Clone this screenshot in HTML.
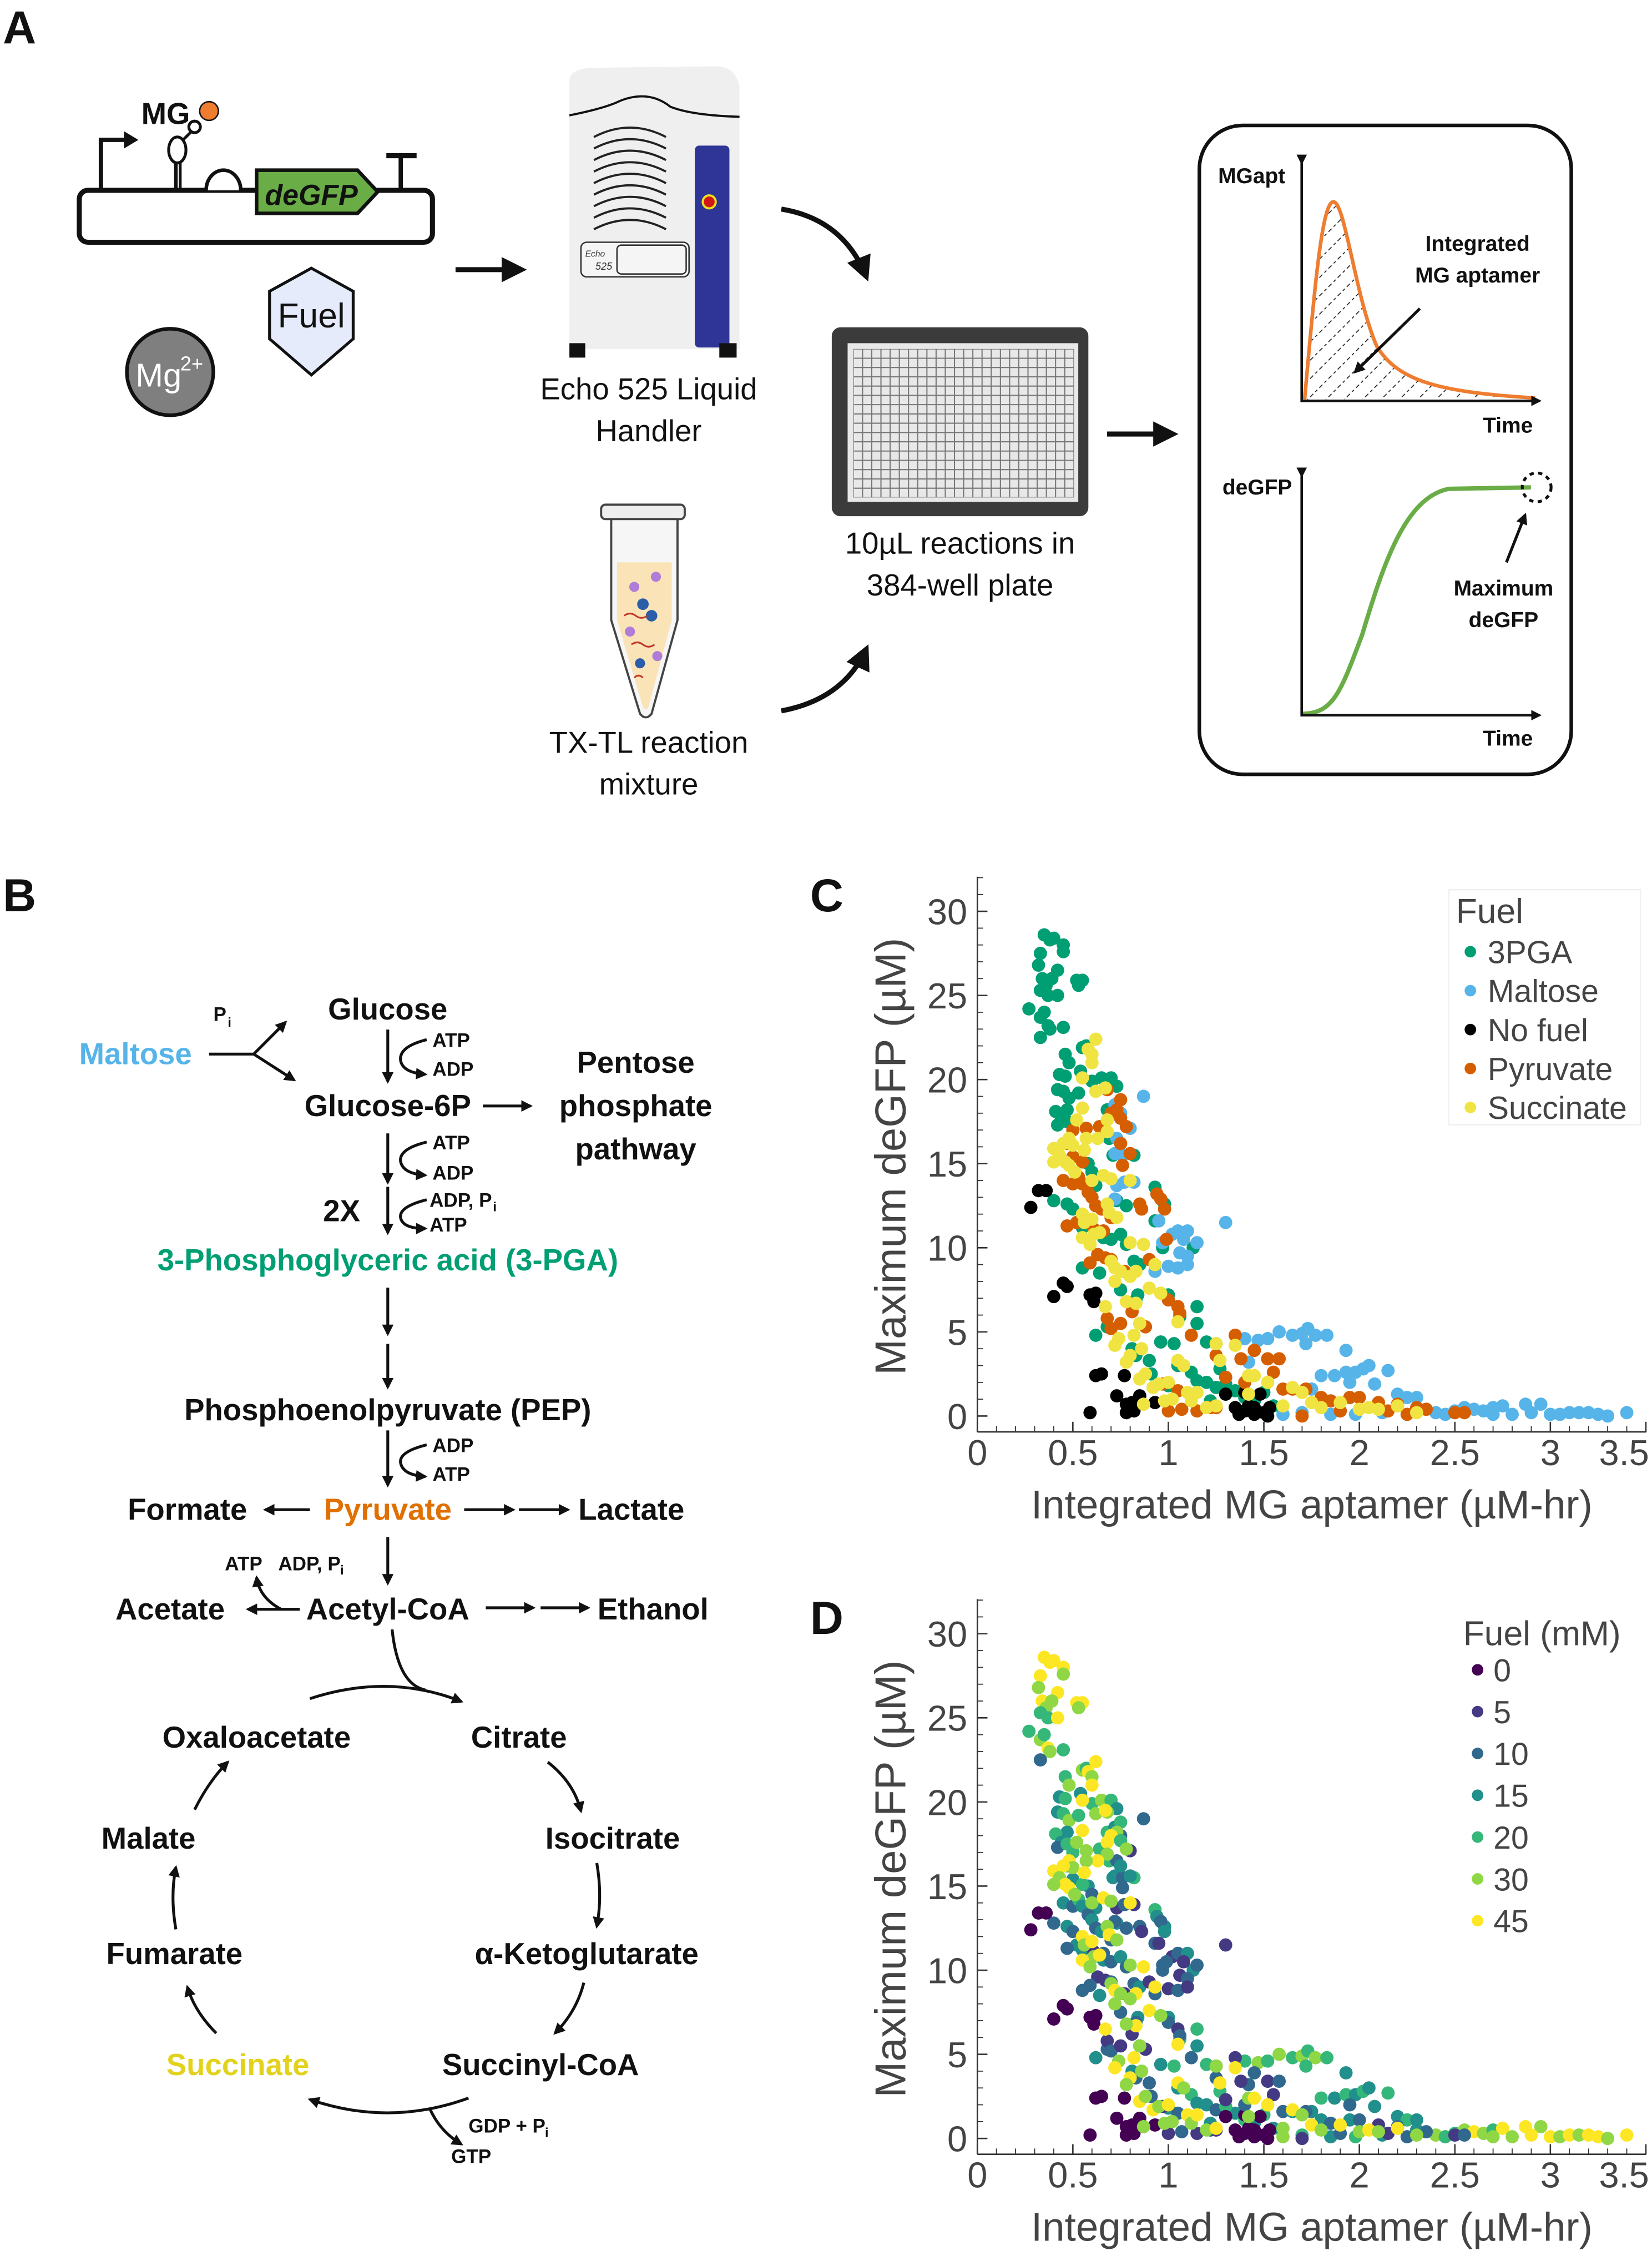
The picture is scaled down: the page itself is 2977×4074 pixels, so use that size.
<!DOCTYPE html>
<html><head><meta charset="utf-8"><style>
html,body{margin:0;padding:0;background:#fff;}
svg{display:block;}
text{font-family:"Liberation Sans",sans-serif;}
.b{font-weight:bold;font-size:21px;fill:#111;text-anchor:middle;}
.s{font-weight:bold;font-size:13.5px;fill:#111;}
.tk{font-size:25px;fill:#444;text-anchor:middle;}
.lg{font-size:22px;fill:#444;}
</style></head><body>
<svg id="fig" width="2977" height="4074" viewBox="0 0 1146 1568" preserveAspectRatio="none" xmlns="http://www.w3.org/2000/svg">
<defs>
<marker id="ah" viewBox="0 0 10 10" refX="8" refY="5" markerWidth="5" markerHeight="5" orient="auto"><path d="M0,0L10,5L0,10z" fill="#111"/></marker>
<marker id="ahs" viewBox="0 0 10 10" refX="8" refY="5" markerWidth="4" markerHeight="4" orient="auto"><path d="M0,0L10,5L0,10z" fill="#111"/></marker>
<pattern id="hatch" width="9" height="9" patternUnits="userSpaceOnUse" patternTransform="rotate(45)"><line x1="0" y1="0" x2="0" y2="9" stroke="#222" stroke-width="1.3" stroke-dasharray="2,2"/></pattern>
<clipPath id="plateclip"><rect x="592" y="242" width="153" height="103"/></clipPath>
</defs>

<!-- PANEL A -->
<text x="2" y="30" font-size="32" font-weight="bold" fill="#111">A</text>
<g>
<rect x="55" y="132" width="245" height="36" rx="6" fill="#fff" stroke="#111" stroke-width="3.5"/>
<path d="M70,132V97H88" fill="none" stroke="#111" stroke-width="3"/><path d="M86,91L96,97L86,103z" fill="#111"/>
<line x1="122" y1="132" x2="122" y2="112" stroke="#111" stroke-width="2.5"/><line x1="125" y1="132" x2="125" y2="112" stroke="#111" stroke-width="2"/>
<ellipse cx="123" cy="104" rx="6" ry="9" fill="#fff" stroke="#111" stroke-width="2"/>
<line x1="127" y1="97" x2="133" y2="91" stroke="#111" stroke-width="2"/><circle cx="135" cy="88" r="4" fill="#fff" stroke="#111" stroke-width="2"/>
<path d="M143,132A12,14 0 0 1 167,132" fill="#fff" stroke="#111" stroke-width="2.5"/>
<path d="M178,118H248L262,133L248,148H178z" fill="#6AAD46" stroke="#111" stroke-width="2.5"/>
<text x="216" y="142" font-size="20" font-weight="bold" font-style="italic" fill="#111" text-anchor="middle">deGFP</text>
<line x1="278" y1="132" x2="278" y2="108" stroke="#111" stroke-width="3"/><line x1="268" y1="108" x2="289" y2="108" stroke="#111" stroke-width="3.5"/>
<text x="98" y="86" font-size="21" font-weight="bold" fill="#111">MG</text>
<circle cx="145" cy="77" r="6.5" fill="#EE7D30" stroke="#111" stroke-width="1"/>
</g>
<g>
<polygon points="216,186 245,202 245,235 216,260 187,235 187,202" fill="#E5EBFA" stroke="#111" stroke-width="2"/>
<text x="216" y="227" font-size="24" fill="#111" text-anchor="middle">Fuel</text>
</g>
<g>
<circle cx="118" cy="258" r="30" fill="#7f7f7f" stroke="#111" stroke-width="2.5"/>
<text x="110" y="268" font-size="23" fill="#fff" text-anchor="middle">Mg</text><text x="133" y="257" font-size="14" fill="#fff" text-anchor="middle">2+</text>
</g>
<line x1="316" y1="187" x2="362" y2="187" stroke="#111" stroke-width="3.5" marker-end="url(#ah)"/>
<g>
<path d="M395,56Q395,48 410,47L497,46Q510,46 513,60V242H395z" fill="#efefef"/>
<path d="M395,80Q420,75 430,70Q450,62 465,74Q480,80 513,81" fill="none" stroke="#111" stroke-width="1.5"/>
<g fill="none" stroke="#222" stroke-width="1.5">
<path d="M412,95Q437,82 462,95"/><path d="M412,103Q437,90 462,103"/><path d="M412,111Q437,98 462,111"/><path d="M412,119Q437,106 462,119"/><path d="M412,127Q437,114 462,127"/><path d="M412,135Q437,122 462,135"/><path d="M412,143Q437,130 462,143"/><path d="M412,151Q437,138 462,151"/><path d="M412,159Q437,146 462,159"/></g>
<rect x="482" y="101" width="24" height="140" rx="3" fill="#2E3596"/>
<circle cx="492" cy="140" r="4.5" fill="#D01818" stroke="#F0E020" stroke-width="1.5"/>
<rect x="403" y="168" width="75" height="24" rx="4" fill="#f5f5f5" stroke="#333" stroke-width="1"/>
<rect x="428" y="170" width="48" height="20" rx="3" fill="#f5f5f5" stroke="#333" stroke-width="1"/>
<text x="406" y="178" font-size="6" font-style="italic" fill="#333">Echo</text><text x="413" y="187" font-size="7" font-style="italic" fill="#333">525</text>
<rect x="395" y="238" width="11" height="10" fill="#111"/><rect x="499" y="238" width="12" height="10" fill="#111"/>
<text x="450" y="277" font-size="21" fill="#111" text-anchor="middle">Echo 525 Liquid</text>
<text x="450" y="306" font-size="21" fill="#111" text-anchor="middle">Handler</text>
</g>
<path d="M542,145Q585,152 601,192" fill="none" stroke="#111" stroke-width="3.5" marker-end="url(#ah)"/>
<g>
<rect x="577" y="227" width="178" height="131" rx="6" fill="#3b3b3b"/>
<rect x="588" y="238" width="160" height="110" fill="#e8e8e8"/>
<g clip-path="url(#plateclip)" id="grid"></g>
<text x="666" y="384" font-size="21" fill="#111" text-anchor="middle">10µL reactions in</text>
<text x="666" y="413" font-size="21" fill="#111" text-anchor="middle">384-well plate</text>
</g>
<g>
<rect x="417" y="350" width="58" height="10" rx="3" fill="#eee" stroke="#444" stroke-width="1.5"/>
<path d="M424,360H470V430L452,495Q448,500 444,495L424,430z" fill="#f6f6f6" stroke="#444" stroke-width="1.5"/>
<path d="M428,390H466V430L450,490Q448,494 446,490L428,430z" fill="#FBE3B8"/>
<circle cx="440" cy="407" r="3.5" fill="#B07CD8"/><circle cx="455" cy="400" r="3.5" fill="#B07CD8"/><circle cx="446" cy="419" r="4" fill="#2B5DA8"/><circle cx="452" cy="427" r="4" fill="#2B5DA8"/><circle cx="437" cy="438" r="3.5" fill="#B07CD8"/><circle cx="456" cy="455" r="3.5" fill="#B07CD8"/><circle cx="444" cy="460" r="3.5" fill="#2B5DA8"/>
<path d="M433,427q4,-3 8,0t8,0M438,447q4,-3 8,0t8,0M440,470q3,-3 6,0" fill="none" stroke="#C0392B" stroke-width="1.2"/>
<text x="450" y="522" font-size="21" fill="#111" text-anchor="middle">TX-TL reaction</text>
<text x="450" y="551" font-size="21" fill="#111" text-anchor="middle">mixture</text>
</g>
<path d="M542,493Q585,485 601,450" fill="none" stroke="#111" stroke-width="3.5" marker-end="url(#ah)"/>
<line x1="768" y1="301" x2="814" y2="301" stroke="#111" stroke-width="3.5" marker-end="url(#ah)"/>
<g>
<rect x="832" y="87" width="258" height="450" rx="30" fill="#fff" stroke="#111" stroke-width="2.5"/>
<path d="M905,277C912,200 917,140 925,140C933,140 940,205 955,240C970,265 1000,272 1065,276Z" fill="url(#hatch)"/>
<path d="M905,277C912,200 917,140 925,140C933,140 940,205 955,240C970,265 1000,272 1065,276" fill="none" stroke="#EE7D30" stroke-width="2.5"/>
<path d="M903,113V278H1068" fill="none" stroke="#111" stroke-width="1.8" marker-end="url(#ahs)" marker-start="url(#ahs)"/>
<text x="845" y="127" font-size="15" font-weight="bold" fill="#111">MGapt</text>
<text x="1025" y="174" font-size="15" font-weight="bold" fill="#111" text-anchor="middle">Integrated</text>
<text x="1025" y="196" font-size="15" font-weight="bold" fill="#111" text-anchor="middle">MG aptamer</text>
<line x1="985" y1="214" x2="940" y2="258" stroke="#111" stroke-width="2" marker-end="url(#ahs)"/>
<text x="1046" y="300" font-size="15" font-weight="bold" fill="#111" text-anchor="middle">Time</text>
<path d="M903,495C925,495 930,480 945,440C960,390 975,345 1005,339L1062,338" fill="none" stroke="#6AAD46" stroke-width="3"/>
<path d="M903,330V496H1068" fill="none" stroke="#111" stroke-width="1.8" marker-end="url(#ahs)" marker-start="url(#ahs)"/>
<circle cx="1066" cy="338" r="10" fill="none" stroke="#111" stroke-width="2" stroke-dasharray="3,3"/>
<line x1="1045" y1="390" x2="1058" y2="357" stroke="#111" stroke-width="2" marker-end="url(#ahs)"/>
<text x="848" y="343" font-size="15" font-weight="bold" fill="#111">deGFP</text>
<text x="1043" y="413" font-size="15" font-weight="bold" fill="#111" text-anchor="middle">Maximum</text>
<text x="1043" y="435" font-size="15" font-weight="bold" fill="#111" text-anchor="middle">deGFP</text>
<text x="1046" y="517" font-size="15" font-weight="bold" fill="#111" text-anchor="middle">Time</text>
</g>

<!-- PANEL B -->
<text x="2" y="632" font-size="32" font-weight="bold" fill="#111">B</text>
<g fill="none" stroke="#111" stroke-width="2">
<path d="M145,731H176L198,709" marker-end="url(#ahs)"/><path d="M176,731L204,749" marker-end="url(#ahs)"/>
<path d="M269,714V750" marker-end="url(#ahs)"/><path d="M296,721Q276,726 278,736Q280,744 295,745" marker-end="url(#ahs)"/>
<path d="M335,767H368" marker-end="url(#ahs)"/>
<path d="M269,786V820" marker-end="url(#ahs)"/><path d="M296,792Q276,797 278,806Q280,814 295,815" marker-end="url(#ahs)"/>
<path d="M269,823V855" marker-end="url(#ahs)"/><path d="M296,832Q276,837 278,845Q280,852 295,852" marker-end="url(#ahs)"/>
<path d="M269,893V925" marker-end="url(#ahs)"/><path d="M269,932V962" marker-end="url(#ahs)"/>
<path d="M269,992V1030" marker-end="url(#ahs)"/><path d="M296,1002Q276,1007 278,1015Q280,1023 295,1024" marker-end="url(#ahs)"/>
<path d="M215,1047H184" marker-end="url(#ahs)"/>
<path d="M322,1047H356" marker-end="url(#ahs)"/><path d="M360,1047H394" marker-end="url(#ahs)"/>
<path d="M269,1066V1098" marker-end="url(#ahs)"/>
<path d="M208,1116H172" marker-end="url(#ahs)"/><path d="M195,1116Q180,1108 178,1094" marker-end="url(#ahs)"/>
<path d="M337,1115H370" marker-end="url(#ahs)"/><path d="M375,1115H408" marker-end="url(#ahs)"/>
<path d="M215,1178Q270,1160 320,1180" marker-end="url(#ahs)"/><path d="M272,1130Q276,1168 295,1172"/>
<path d="M380,1222Q398,1236 403,1256" marker-end="url(#ahs)"/>
<path d="M414,1292Q418,1315 414,1336" marker-end="url(#ahs)"/>
<path d="M405,1375Q400,1395 385,1410" marker-end="url(#ahs)"/>
<path d="M325,1455Q270,1475 215,1456" marker-end="url(#ahs)"/><path d="M298,1462Q305,1478 320,1487" marker-end="url(#ahs)"/>
<path d="M150,1410Q135,1395 130,1378" marker-end="url(#ahs)"/>
<path d="M122,1338Q118,1315 122,1295" marker-end="url(#ahs)"/>
<path d="M135,1255Q145,1235 158,1222" marker-end="url(#ahs)"/>
</g>
<g>
<text x="94" y="738" class="b" style="fill:#56B4E9">Maltose</text>
<text x="148" y="708" class="s">P</text><text x="158" y="712" font-size="9" font-weight="bold">i</text>
<text x="269" y="707" class="b">Glucose</text>
<text x="300" y="726" class="s">ATP</text><text x="300" y="746" class="s">ADP</text>
<text x="269" y="774" class="b">Glucose-6P</text>
<text x="441" y="744" class="b">Pentose</text><text x="441" y="774" class="b">phosphate</text><text x="441" y="804" class="b">pathway</text>
<text x="300" y="797" class="s">ATP</text><text x="300" y="818" class="s">ADP</text>
<text x="237" y="847" class="b">2X</text>
<text x="298" y="837" class="s">ADP, P</text><text x="342" y="840" font-size="9" font-weight="bold">i</text><text x="298" y="854" class="s">ATP</text>
<text x="269" y="881" class="b" style="fill:#009E73">3-Phosphoglyceric acid (3-PGA)</text>
<text x="269" y="985" class="b">Phosphoenolpyruvate (PEP)</text>
<text x="300" y="1007" class="s">ADP</text><text x="300" y="1027" class="s">ATP</text>
<text x="130" y="1054" class="b">Formate</text>
<text x="269" y="1054" class="b" style="fill:#E07000">Pyruvate</text>
<text x="438" y="1054" class="b">Lactate</text>
<text x="156" y="1089" class="s">ATP</text><text x="193" y="1089" class="s">ADP, P</text><text x="236" y="1092" font-size="9" font-weight="bold">i</text>
<text x="118" y="1123" class="b">Acetate</text>
<text x="269" y="1123" class="b">Acetyl-CoA</text>
<text x="453" y="1123" class="b">Ethanol</text>
<text x="178" y="1212" class="b">Oxaloacetate</text>
<text x="360" y="1212" class="b">Citrate</text>
<text x="103" y="1282" class="b">Malate</text>
<text x="425" y="1282" class="b">Isocitrate</text>
<text x="121" y="1362" class="b">Fumarate</text>
<text x="407" y="1362" class="b">α-Ketoglutarate</text>
<text x="165" y="1439" class="b" style="fill:#E2D21E">Succinate</text>
<text x="375" y="1439" class="b">Succinyl-CoA</text>
<text x="325" y="1479" class="s">GDP + P</text><text x="378" y="1482" font-size="9" font-weight="bold">i</text>
<text x="313" y="1500" class="s">GTP</text>
</g>

<text x="562" y="632" font-size="32" font-weight="bold" fill="#111">C</text>
<text x="562" y="1133" font-size="32" font-weight="bold" fill="#111">D</text>
<g id="chartC"></g>
<g id="chartD"></g>
</svg>
<script>
// x, y, concentration-code (0:0,1:5,2:10,3:15,4:20,5:30,6:45)
const pga = [[0.35,28.6,6],[0.38,28.3,6],[0.4,28.4,6],[0.45,28,6],[0.45,27.6,5],[0.33,27.5,6],[0.32,26.8,5],[0.34,26,6],[0.36,25.6,5],[0.33,25.3,4],[0.42,26.5,6],[0.39,26,5],[0.37,25,4],[0.42,25,6],[0.52,25.9,6],[0.55,25.9,6],[0.53,25.6,5],[0.27,24.2,4],[0.33,23.7,5],[0.35,24,4],[0.37,23.2,6],[0.38,23,5],[0.45,23.1,4],[0.33,22.5,2],[0.46,21.5,4],[0.48,21,5],[0.43,20.3,3],[0.46,20.2,4],[0.42,19.4,3],[0.45,19.3,4],[0.48,18.9,5],[0.47,18.2,3],[0.41,18.1,4],[0.44,17.6,3],[0.42,17.3,2],[0.47,17.5,4],[0.55,21.9,5],[0.57,22,4],[0.54,20.5,3],[0.53,19.2,4],[0.6,19.9,4],[0.65,20.1,5],[0.7,20.1,4],[0.73,19.6,3],[0.68,18.2,4],[0.64,17.2,3],[0.69,16.5,4],[0.71,15.5,3],[0.82,15.5,4],[0.58,15,3],[0.6,14.5,2],[0.62,13.7,3],[0.4,12.8,2],[0.47,12.6,3],[0.5,12.3,2],[0.55,11.2,3],[0.62,12.5,4],[0.66,10.6,3],[0.7,10.5,2],[0.75,10.8,3],[0.78,10.2,2],[0.73,12.8,3],[0.78,12.5,2],[0.93,13.6,4],[0.98,12.6,3],[0.93,11.6,2],[0.55,8.8,2],[0.64,8.5,3],[0.82,9.2,2],[0.85,9,3],[0.97,10,2],[1.13,10,3],[0.75,7.5,2],[0.84,7.2,3],[0.83,6.9,2],[1.0,7.2,3],[1.15,6.5,4],[0.62,4.8,3],[0.68,5.3,2],[0.81,4.0,3],[0.83,3.6,2],[0.96,4.4,3],[1.03,4.3,4],[1.05,3,3],[1.12,2.6,4],[1.15,2.1,3],[1.2,4.4,4],[1.25,4.3,3],[1.27,2.8,4],[1.2,2.0,3],[1.25,1.7,2],[1.35,1.5,3],[1.4,1.1,4],[1.45,0.9,3],[1.5,1.4,4],[1.55,0.6,3],[0.9,3.3,2],[1.0,1.8,3],[1.06,5.9,4],[1.15,5.5,3],[1.3,1.9,4],[1.22,0.9,3],[0.91,2.5,2]];
const maltose = [[0.87,19,2],[0.72,18.5,3],[0.75,18,2],[0.8,17.1,1],[0.73,16.5,2],[0.72,15.6,3],[0.76,15.5,2],[0.73,13.7,1],[0.77,13.9,2],[0.82,13.9,1],[0.72,12.9,2],[0.95,11.6,1],[1.3,11.5,1],[0.97,10.3,2],[1.02,10.8,1],[1.05,11,2],[1.1,11,3],[1.08,10.5,1],[1.15,10.3,2],[1.06,9.7,1],[1.1,9.5,2],[1.0,8.9,1],[1.05,8.8,2],[1.1,9,1],[0.93,8.6,2],[1.4,4.6,4],[1.47,4.5,5],[1.52,4.6,4],[1.58,5,5],[1.65,4.8,4],[1.7,4.9,5],[1.73,5.2,4],[1.77,4.8,5],[1.72,4.3,4],[1.83,4.8,4],[1.93,3.9,3],[1.8,2.4,4],[1.87,2.4,3],[1.93,2.6,4],[1.98,2.6,3],[2.02,2.8,4],[2.05,3,3],[2.15,2.7,4],[2.08,1.9,3],[1.95,2,2],[1.42,3.2,2],[1.75,1.6,3],[2.2,1.3,3],[2.25,1.1,4],[2.3,1.1,3],[1.6,0.1,5],[2.4,0.2,5],[2.5,0.3,4],[2.55,0.5,5],[2.6,0.4,6],[2.65,0.3,5],[2.7,0.5,4],[2.75,0.6,6],[2.8,0.1,5],[2.87,0.7,6],[2.95,0.7,5],[3.0,0.1,6],[3.05,0.1,5],[3.1,0.2,6],[3.15,0.2,5],[3.2,0.2,6],[3.25,0.1,6],[3.3,0,5],[3.4,0.2,6],[2.45,0.1,4],[2.12,0.2,3],[1.98,0.1,4],[1.85,0.1,3],[1.7,0.2,4],[2.9,0.2,6],[2.7,0.1,5]];
const nofuel = [[0.32,13.4,0],[0.36,13.4,0],[0.28,12.4,0],[0.45,7.9,0],[0.47,7.7,0],[0.4,7.1,0],[0.59,7.2,0],[0.62,7.3,0],[0.61,6.8,0],[0.62,2.4,0],[0.65,2.5,0],[0.77,2.4,0],[0.73,1.2,0],[0.78,0.7,0],[0.81,0.8,0],[0.85,1.2,0],[0.93,0.8,0],[0.59,0.2,0],[0.78,0.2,0],[0.82,0.3,0],[1.3,1.3,0],[1.4,1.4,0],[1.35,0.5,0],[1.4,0.3,0],[1.45,0.5,0],[1.37,0.1,0],[1.45,0.1,0],[1.5,0.2,0],[1.53,0.5,0],[1.52,0,0],[1.48,1.3,0],[1.42,0.6,0]];
const pyruvate = [[0.68,19.4,5],[0.75,18.8,4],[0.73,18.2,5],[0.7,18,6],[0.75,17.7,4],[0.78,17.2,5],[0.64,17.2,4],[0.57,17.1,5],[0.5,17,4],[0.75,16.2,3],[0.47,16.2,4],[0.5,15.4,3],[0.55,15.1,4],[0.8,15.6,3],[0.76,14.9,2],[0.45,14,3],[0.5,13.8,2],[0.53,14.2,4],[0.55,13.8,3],[0.58,13.3,2],[0.6,13,3],[0.62,12.5,2],[0.65,12.3,3],[0.7,11.8,2],[0.52,11.5,3],[0.47,11.3,2],[0.61,11.1,1],[0.66,11,2],[0.63,10.9,1],[0.94,13.2,3],[0.96,12.9,2],[0.98,12.3,3],[0.85,12.6,2],[0.86,12.3,1],[0.99,10.5,2],[0.9,9.3,1],[0.63,9.6,1],[0.59,9.1,2],[0.67,9.4,1],[0.7,9.3,2],[0.77,8.6,1],[1.0,6.9,2],[1.05,6.5,1],[1.06,6.1,2],[0.81,6.2,1],[0.85,5.5,2],[0.88,5.3,1],[0.68,5.8,1],[0.7,5.2,2],[0.75,5.5,1],[1.12,4.8,2],[1.35,4.8,1],[1.45,3.9,2],[1.38,3.4,1],[1.25,3.6,2],[1.52,3.4,1],[1.58,3.4,2],[1.55,2.6,1],[1.4,2.0,2],[1.3,2.3,1],[1.6,1.6,2],[1.65,1.6,3],[1.72,1.6,2],[1.8,1.1,3],[1.85,0.9,2],[1.95,1.1,3],[2.0,1.1,2],[2.1,0.8,1],[2.2,0.7,2],[2.3,0.5,3],[2.35,0.4,2],[2.5,0.2,1],[2.55,0.2,2],[1.0,0.3,1],[1.07,0.4,2],[1.15,0.3,1],[1.22,0.5,2],[1.25,0.5,1],[1.7,0,1],[1.9,0.3,2],[2.15,0.3,1],[2.25,0.1,2],[0.97,1.9,1],[1.05,1.5,2]];
const succinate = [[0.62,22.4,6],[0.58,21.8,6],[0.6,21.5,5],[0.6,21,6],[0.55,20.1,6],[0.62,19.3,5],[0.67,19.5,6],[0.55,18.3,6],[0.52,17.6,5],[0.68,17.6,6],[0.68,16.9,5],[0.63,16.5,6],[0.57,16.5,5],[0.48,16.5,6],[0.5,16.1,5],[0.45,16.2,6],[0.4,15.9,6],[0.43,15.5,5],[0.46,15.1,6],[0.4,15.1,5],[0.48,14.9,6],[0.51,14.5,5],[0.56,15.8,6],[0.6,14,5],[0.66,14.3,6],[0.7,14.1,5],[0.8,14.0,6],[0.68,12.6,5],[0.69,12.1,6],[0.73,11.8,5],[0.55,12,6],[0.56,11.5,5],[0.6,11.7,6],[0.61,10.8,5],[0.55,10.6,6],[0.59,10.2,5],[0.64,10.9,6],[0.8,10.3,5],[0.87,10.2,6],[0.7,9.2,5],[0.72,8.8,6],[0.75,8.6,5],[0.83,8.6,6],[0.8,8.3,5],[0.93,9.0,6],[0.72,8.0,5],[0.9,7.6,6],[0.96,7.3,5],[0.83,6.7,6],[0.78,6.8,5],[0.67,6.5,6],[0.85,5.5,5],[0.82,4.8,6],[0.74,4.6,5],[0.72,4.2,6],[0.86,4.0,5],[0.8,3.6,6],[0.78,3.2,5],[0.85,2.2,6],[0.88,2.5,5],[0.92,1.7,6],[0.95,1.9,5],[1.0,2.0,6],[1.02,1.0,5],[1.05,3.3,6],[1.08,3.0,5],[1.1,1.4,6],[1.12,0.9,5],[1.15,1.4,6],[1.2,0.5,5],[1.27,3.3,6],[1.25,4.3,5],[1.35,4.2,6],[1.42,2.4,5],[1.45,2.4,6],[1.42,1.3,5],[1.52,2.0,6],[1.6,0.6,5],[1.65,1.7,6],[1.7,1.4,5],[1.75,0.8,6],[1.8,0.5,5],[1.9,0.8,6],[2.0,0.4,5],[2.05,0.5,6],[2.1,0.4,5],[2.2,0.6,6],[2.3,0.2,5],[1.25,0.6,6],[0.87,0.7,5],[1.05,5.6,6],[0.98,0.9,5]];
const fuelNames = ["3PGA","Maltose","No fuel","Pyruvate","Succinate"];
const fuelColors = ["#009E73","#56B4E9","#000000","#D55E00","#F0E442"];
const concLabels = ["0","5","10","15","20","30","45"];
const concColors = ["#440154","#443A83","#31688E","#21908C","#35B779","#8FD744","#FDE725"];
const xTicks = [0,0.5,1,1.5,2,2.5,3,3.5];
const yTicks = [0,5,10,15,20,25,30];

const NS="http://www.w3.org/2000/svg";
function mk(parent,tag,attrs){const e=document.createElementNS(NS,tag);for(const k in attrs)e.setAttribute(k,attrs[k]);parent.appendChild(e);return e;}

(function(){const g=document.getElementById('grid');
for(let i=0;i<=24;i++){const l=mk(g,'line',{x1:592+i*153/24,y1:242,x2:592+i*153/24,y2:345,stroke:'#777','stroke-width':0.8});

}
for(let j=0;j<=16;j++){const l=mk(g,'line',{x1:592,y1:242+j*103/16,x2:745,y2:242+j*103/16,stroke:'#777','stroke-width':0.8});

}})();

function drawChart(gid,top,byConc){
  const g=document.getElementById(gid);
  const X0=678,XU=132.5,Y0=top,YU=11.667;
  const sx=v=>X0+v*XU, sy=v=>Y0-v*YU;
  const axisY=Y0+11;
  let a=mk(g,'line',{x1:X0,y1:Y0-374,x2:X0,y2:axisY,stroke:'#333','stroke-width':1});
  
  
  a=mk(g,'line',{x1:X0,y1:axisY,x2:1142,y2:axisY,stroke:'#333','stroke-width':1});
  
  
  for(let v=0;v<=32;v++){const big=v%5===0;mk(g,'line',{x1:X0,y1:sy(v),x2:X0+(big?7:4),y2:sy(v),stroke:'#333','stroke-width':big?1:0.7});}
  for(let v=0;v<=35;v++){const big=v%5===0;mk(g,'line',{x1:sx(v/10),y1:axisY,x2:sx(v/10),y2:axisY-(big?7:4),stroke:'#333','stroke-width':big?1:0.7});}
  yTicks.forEach(v=>{const t=mk(g,'text',{x:671,y:sy(v)+9,'class':'tk'});t.style.textAnchor='end';t.textContent=v;
    
    });
  xTicks.forEach((v,i)=>{const last=i===xTicks.length-1;
    const t=mk(g,'text',{x:last?1144:sx(v),y:axisY+23,'class':'tk'});if(last)t.style.textAnchor='end';t.textContent=v;
    
    });
  let t=mk(g,'text',{x:910,y:axisY+60,'font-size':28,fill:'#444','text-anchor':'middle'});t.textContent='Integrated MG aptamer (µM-hr)';
  
  
  t=mk(g,'text',{x:0,y:0,'font-size':30,fill:'#444','text-anchor':'middle',transform:`translate(628,${Y0-180}) rotate(-90)`});t.textContent='Maximum deGFP (µM)';
  
  
  const series=[pga,maltose,nofuel,pyruvate,succinate];
  series.forEach((s,si)=>{s.forEach(p=>{
    const c=mk(g,'circle',{cx:sx(p[0]),cy:sy(p[1]),r:4.6,fill:byConc?concColors[p[2]]:fuelColors[si]});
    
    
  });});
  if(!byConc){
    const r=mk(g,'rect',{x:1005,y:Y0-365,width:133,height:163,fill:'#fff',stroke:'#f0f0f0'});
    
    
    t=mk(g,'text',{x:1010,y:Y0-342,'font-size':24,fill:'#444'});t.textContent='Fuel';
    
    
    fuelNames.forEach((n,i)=>{const y=Y0-322+i*27;
      mk(g,'circle',{cx:1020,cy:y,r:4,fill:fuelColors[i]});
      const e=mk(g,'text',{x:1032,y:y+8,'class':'lg'});e.textContent=n;
      
      });
  } else {
    t=mk(g,'text',{x:1015,y:Y0-342,'font-size':24,fill:'#444'});t.textContent='Fuel (mM)';
    
    
    concLabels.forEach((n,i)=>{const y=Y0-325+i*29;
      mk(g,'circle',{cx:1025,cy:y,r:4,fill:concColors[i]});
      const e=mk(g,'text',{x:1036,y:y+8,'class':'lg'});e.textContent=n;
      
      });
  }
}
drawChart('chartC',982,false);
drawChart('chartD',1483,true);
</script>
</body></html>
